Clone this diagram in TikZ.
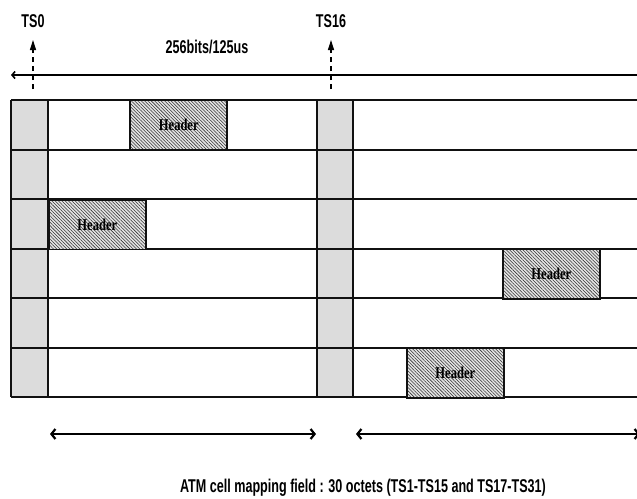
\documentclass[tikz,border=0pt]{standalone}
\usepackage{fontspec}
\setmainfont{Liberation Sans}
\newfontfamily\lblfont[FakeStretch=0.68]{Liberation Sans Bold}
\newfontfamily\hdrfont[FakeStretch=0.76]{Liberation Serif Bold}
\usetikzlibrary{arrows.meta,patterns.meta}
\definecolor{slotgray}{HTML}{DCDCDC}
\definecolor{hatchbg}{HTML}{E4E4E4}
\definecolor{hatchline}{HTML}{333333}
\definecolor{gridline}{HTML}{111111}
\tikzset{
  gridpen/.style={draw=gridline,line width=2pt},
  slotcol/.style={fill=slotgray},
  hdrbox/.style={draw=gridline,line width=1.6pt,inner sep=0pt,
    minimum width=97pt,minimum height=49.5pt,anchor=north west,
    preaction={fill=hatchbg},
    pattern={Lines[angle=-45,distance=2.35pt,line width=0.55pt]},
    pattern color=hatchline,
    font=\hdrfont\fontsize{16.5}{16.5}\selectfont},
  lbl/.style={inner sep=0pt,font=\lblfont\fontsize{18.5}{18.5}\selectfont},
  marker/.style={line width=1.2pt,dash pattern=on 5pt off 4pt,
    -{Triangle[length=10pt,width=6pt]}},
  spanarrow/.style={line width=2.2pt,
    {Straight Barb[length=4pt,width=10pt]}-{Straight Barb[length=4pt,width=10pt]}},
  timeline/.style={line width=1.6pt,-{Straight Barb[length=3pt,width=7pt]}}
}
\begin{document}
\begin{tikzpicture}[x=1pt,y=-1pt]
\clip (0,0) rectangle (637,498);
\fill[white] (0,0) rectangle (637,498);

% frame time axis
\coordinate (axisR) at (640,75);
\coordinate (axisL) at (11,75);
\draw[timeline] (axisR) -- (axisL);
\node[lbl] (rate) at (207,47) {256bits/125us};

% time slot markers
\node[lbl] (ts0) at (33,21) {TS0};
\node[lbl] (ts16) at (331,21) {TS16};
\coordinate (m0a) at (33,89);
\coordinate (m0b) at (33,40);
\coordinate (m16a) at (331,89);
\coordinate (m16b) at (331,40);
\draw[marker] (m0a) -- (m0b);
\draw[marker] (m16a) -- (m16b);

% TS0 and TS16 columns
\fill[slotcol] (11,100) rectangle (48,397);
\fill[slotcol] (317,100) rectangle (353,397);

% frame rows
\foreach \y in {100,149.5,199,248.5,298,347.5,397}
  \draw[gridpen] (11,\y) -- (645,\y);
\foreach \x in {11,48,317,353}
  \draw[gridpen] (\x,100) -- (\x,397);

% ATM cell headers
\node[hdrbox] (h1) at (130,100) {Header};
\node[hdrbox] (h2) at (48,199) {Header};
\node[hdrbox] (h3) at (502,248.5) {Header};
\node[hdrbox] (h4) at (406,347.5) {Header};

% mapping field spans
\coordinate (s1a) at (50,434);
\coordinate (s1b) at (316,434);
\coordinate (s2a) at (356,434);
\coordinate (s2b) at (640,434);
\draw[spanarrow] (s1a) -- (s1b);
\draw[spanarrow] (s2a) -- (s2b);
\node[lbl,anchor=base] (field) at (363,492) {ATM cell mapping field : 30 octets (TS1-TS15 and TS17-TS31)};
\end{tikzpicture}
\end{document}
